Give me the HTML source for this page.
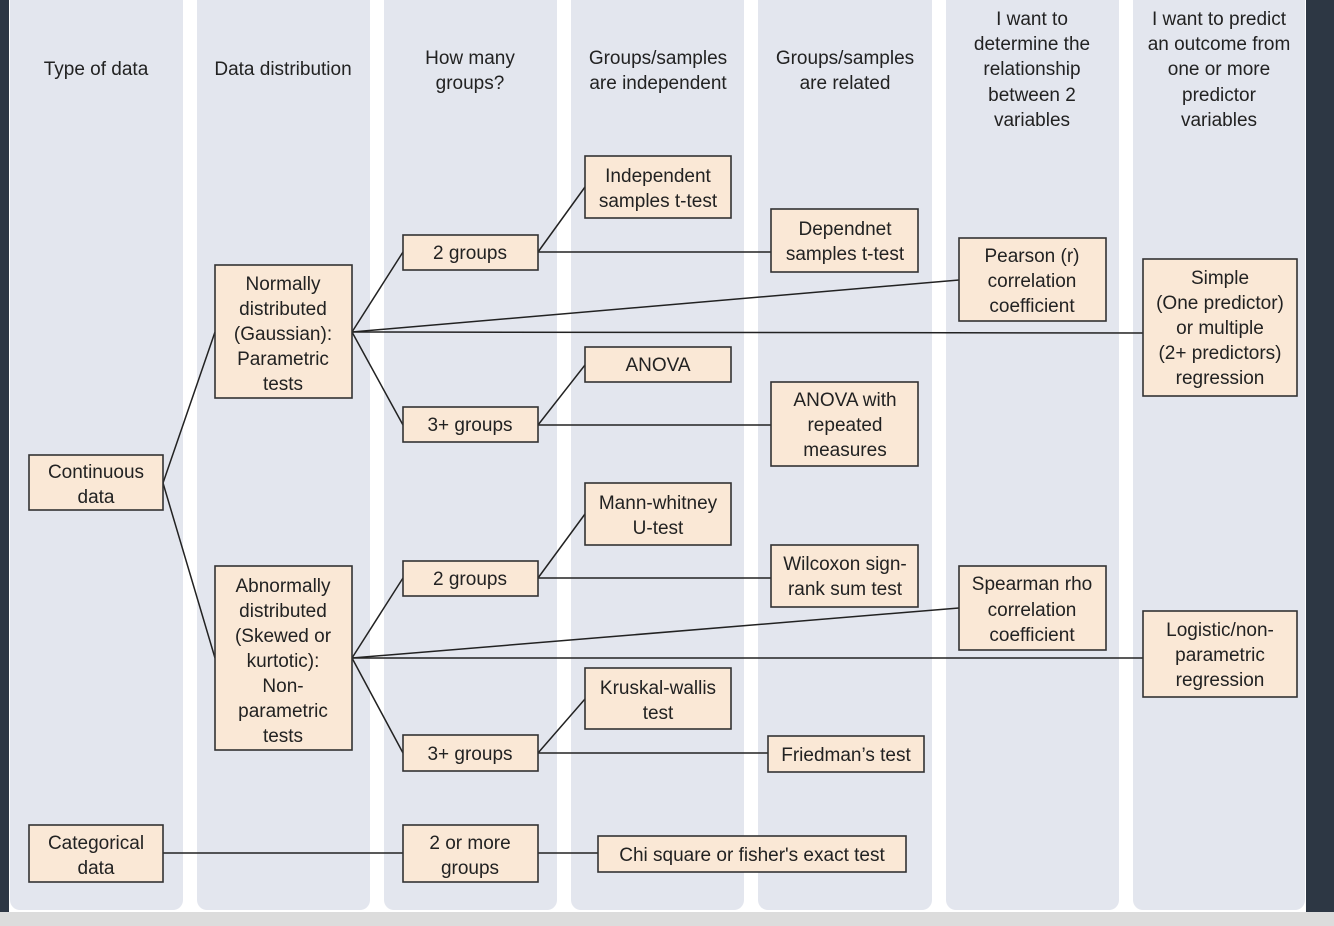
<!DOCTYPE html>
<html><head><meta charset="utf-8"><style>
html,body{margin:0;padding:0;background:#fff;}
svg{display:block;}
text{font-family:"Liberation Sans",sans-serif;font-size:19px;fill:#222;text-anchor:middle;}
.b{fill:#fae8d6;stroke:#333;stroke-width:1.6;}
.l{stroke:#222;stroke-width:1.5;fill:none;}
.c{fill:#e3e6ee;}
</style></head><body>
<svg width="1334" height="926" viewBox="0 0 1334 926">
<rect x="0" y="0" width="1334" height="926" fill="#fff"/>
<rect x="0" y="0" width="9" height="912" fill="#2d3744"/>
<rect x="1306" y="0" width="28" height="912" fill="#2d3744"/>
<rect x="0" y="912" width="1334" height="14" fill="#dcdcdc"/>
<rect class="c" x="10" y="-12" width="173" height="922" rx="10"/>
<rect class="c" x="197" y="-12" width="173" height="922" rx="10"/>
<rect class="c" x="384" y="-12" width="173" height="922" rx="10"/>
<rect class="c" x="571" y="-12" width="173" height="922" rx="10"/>
<rect class="c" x="758" y="-12" width="174" height="922" rx="10"/>
<rect class="c" x="946" y="-12" width="173" height="922" rx="10"/>
<rect class="c" x="1133" y="-12" width="172" height="922" rx="10"/>

<text x="96" y="75">Type of data</text>
<text x="283" y="75">Data distribution</text>
<text x="470" y="64">How many</text><text x="470" y="89">groups?</text>
<text x="658" y="64">Groups/samples</text><text x="658" y="89">are independent</text>
<text x="845" y="64">Groups/samples</text><text x="845" y="89">are related</text>
<text x="1032" y="25">I want to</text><text x="1032" y="50">determine the</text><text x="1032" y="75">relationship</text><text x="1032" y="101">between 2</text><text x="1032" y="126">variables</text>
<text x="1219" y="25">I want to predict</text><text x="1219" y="50">an outcome from</text><text x="1219" y="75">one or more</text><text x="1219" y="101">predictor</text><text x="1219" y="126">variables</text>

<g class="l">
<line x1="163" y1="483" x2="215" y2="332"/>
<line x1="163" y1="483" x2="215" y2="658"/>
<line x1="352" y1="332" x2="403" y2="252"/>
<line x1="352" y1="332" x2="403" y2="425"/>
<line x1="352" y1="332" x2="959" y2="280"/>
<line x1="352" y1="332" x2="1143" y2="333"/>
<line x1="538" y1="252" x2="585" y2="187"/>
<line x1="538" y1="252" x2="771" y2="252"/>
<line x1="538" y1="425" x2="585" y2="365"/>
<line x1="538" y1="425" x2="771" y2="425"/>
<line x1="352" y1="658" x2="403" y2="578"/>
<line x1="352" y1="658" x2="403" y2="753"/>
<line x1="352" y1="658" x2="959" y2="608"/>
<line x1="352" y1="658" x2="1143" y2="658"/>
<line x1="538" y1="578" x2="585" y2="514"/>
<line x1="538" y1="578" x2="771" y2="578"/>
<line x1="538" y1="753" x2="585" y2="699"/>
<line x1="538" y1="753" x2="768" y2="753"/>
<line x1="163" y1="853" x2="403" y2="853"/>
<line x1="538" y1="853" x2="598" y2="853"/>
</g>

<rect class="b" x="29" y="455" width="134" height="55"/>
<text x="96" y="478">Continuous</text><text x="96" y="503">data</text>
<rect class="b" x="29" y="825" width="134" height="57"/>
<text x="96" y="849">Categorical</text><text x="96" y="874">data</text>

<rect class="b" x="215" y="265" width="137" height="133"/>
<text x="283" y="290">Normally</text><text x="283" y="315">distributed</text><text x="283" y="340">(Gaussian):</text><text x="283" y="365">Parametric</text><text x="283" y="390">tests</text>
<rect class="b" x="215" y="566" width="137" height="184"/>
<text x="283" y="592">Abnormally</text><text x="283" y="617">distributed</text><text x="283" y="642">(Skewed or</text><text x="283" y="667">kurtotic):</text><text x="283" y="692">Non-</text><text x="283" y="717">parametric</text><text x="283" y="742">tests</text>

<rect class="b" x="403" y="235" width="135" height="35"/><text x="470" y="259">2 groups</text>
<rect class="b" x="403" y="407" width="135" height="35"/><text x="470" y="431">3+ groups</text>
<rect class="b" x="403" y="561" width="135" height="35"/><text x="470" y="585">2 groups</text>
<rect class="b" x="403" y="735" width="135" height="36"/><text x="470" y="760">3+ groups</text>
<rect class="b" x="403" y="825" width="135" height="57"/><text x="470" y="849">2 or more</text><text x="470" y="874">groups</text>

<rect class="b" x="585" y="156" width="146" height="62"/><text x="658" y="182">Independent</text><text x="658" y="207">samples t-test</text>
<rect class="b" x="585" y="347" width="146" height="35"/><text x="658" y="371">ANOVA</text>
<rect class="b" x="585" y="483" width="146" height="62"/><text x="658" y="509">Mann-whitney</text><text x="658" y="534">U-test</text>
<rect class="b" x="585" y="668" width="146" height="61"/><text x="658" y="694">Kruskal-wallis</text><text x="658" y="719">test</text>

<rect class="b" x="771" y="209" width="147" height="63"/><text x="845" y="235">Dependnet</text><text x="845" y="260">samples t-test</text>
<rect class="b" x="771" y="382" width="147" height="84"/><text x="845" y="406">ANOVA with</text><text x="845" y="431">repeated</text><text x="845" y="456">measures</text>
<rect class="b" x="771" y="545" width="147" height="62"/><text x="845" y="570">Wilcoxon sign-</text><text x="845" y="595">rank sum test</text>
<rect class="b" x="768" y="736" width="156" height="36"/><text x="846" y="761">Friedman’s test</text>
<rect class="b" x="598" y="836" width="308" height="36"/><text x="752" y="861">Chi square or fisher's exact test</text>

<rect class="b" x="959" y="238" width="147" height="83"/><text x="1032" y="262">Pearson (r)</text><text x="1032" y="287">correlation</text><text x="1032" y="312">coefficient</text>
<rect class="b" x="959" y="566" width="147" height="84"/><text x="1032" y="590">Spearman rho</text><text x="1032" y="616">correlation</text><text x="1032" y="641">coefficient</text>

<rect class="b" x="1143" y="259" width="154" height="137"/><text x="1220" y="284">Simple</text><text x="1220" y="309">(One predictor)</text><text x="1220" y="334">or multiple</text><text x="1220" y="359">(2+ predictors)</text><text x="1220" y="384">regression</text>
<rect class="b" x="1143" y="611" width="154" height="86"/><text x="1220" y="636">Logistic/non-</text><text x="1220" y="661">parametric</text><text x="1220" y="686">regression</text>
</svg>
</body></html>
